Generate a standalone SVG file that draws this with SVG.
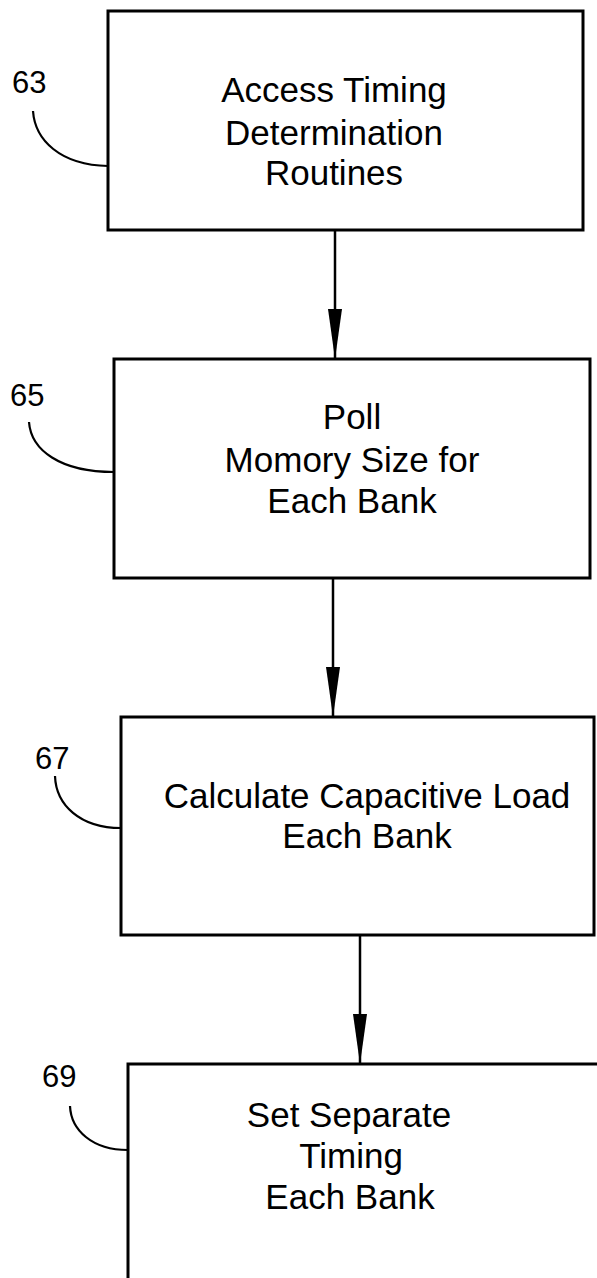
<svg xmlns="http://www.w3.org/2000/svg" width="597" height="1278" viewBox="0 0 597 1278">
<defs>
<style>
.box{fill:none;stroke:#000;stroke-width:3}
.txt{font-family:"Liberation Sans",Arial,sans-serif;font-size:35px;fill:#000;text-anchor:middle}
.lbl{font-family:"Liberation Sans",Arial,sans-serif;font-size:31px;fill:#000}
.lead{fill:none;stroke:#000;stroke-width:2.2}
.conn{fill:none;stroke:#000;stroke-width:2.5}
</style>
<marker id="arr" viewBox="0 0 50 14" markerWidth="50" markerHeight="14" markerUnits="userSpaceOnUse" refX="50" refY="7" orient="auto">
<path d="M0,0 L50,7 L0,14 Z" fill="#000"/>
</marker>
</defs>
<rect width="597" height="1278" fill="#fff"/>
<g id="connectors">
<line class="conn" x1="335" y1="230" x2="335" y2="359" marker-end="url(#arr)"/>
<line class="conn" x1="333" y1="578" x2="333" y2="717" marker-end="url(#arr)"/>
<line class="conn" x1="360" y1="935" x2="360" y2="1064" marker-end="url(#arr)"/>
</g>
<g id="node63">
<rect class="box" x="108" y="11" width="475" height="219"/>
<text class="txt" x="334" y="102">Access Timing</text>
<text class="txt" x="334" y="145">Determination</text>
<text class="txt" x="334" y="185">Routines</text>
<text class="lbl" x="12" y="93">63</text>
<path class="lead" d="M33 111 C35 140 60 165 108 166"/>
</g>
<g id="node65">
<rect class="box" x="114" y="359" width="476" height="219"/>
<text class="txt" x="352" y="429">Poll</text>
<text class="txt" x="352" y="472">Momory Size for</text>
<text class="txt" x="352" y="513">Each Bank</text>
<text class="lbl" x="10" y="406">65</text>
<path class="lead" d="M29 422 C31 450 60 472 114 472"/>
</g>
<g id="node67">
<rect class="box" x="121" y="717" width="473" height="218"/>
<text class="txt" x="367" y="808">Calculate Capacitive Load</text>
<text class="txt" x="367" y="848">Each Bank</text>
<text class="lbl" x="35" y="769">67</text>
<path class="lead" d="M55 776 C56 805 80 828 121 828"/>
</g>
<g id="node69">
<path class="box" d="M600 1064 H128 V1280"/>
<text class="txt" x="349" y="1127">Set Separate</text>
<text class="txt" x="351" y="1168">Timing</text>
<text class="txt" x="350" y="1209">Each Bank</text>
<text class="lbl" x="42" y="1087">69</text>
<path class="lead" d="M70 1106 C71 1130 92 1150 128 1150"/>
</g>
</svg>
